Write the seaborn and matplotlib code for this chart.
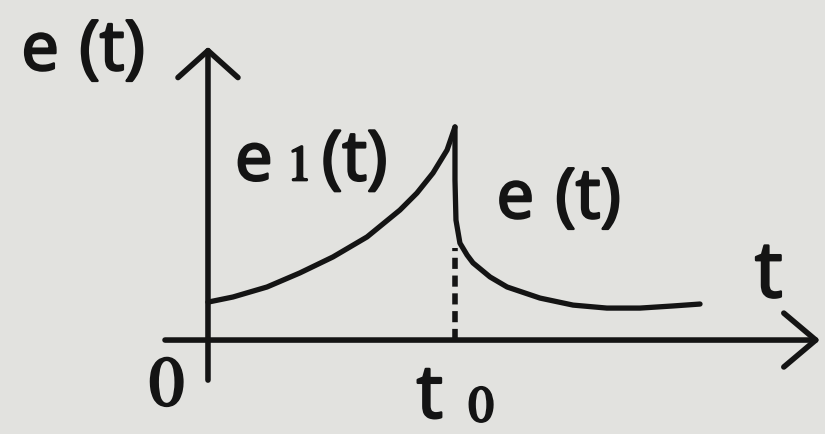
import matplotlib
matplotlib.use("Agg")
import matplotlib.pyplot as plt
import matplotlib.patheffects as pe
import seaborn as sns
import pandas as pd

# e1(t): rising part on [0, t0]
t_rise = [0.0, 0.101, 0.239, 0.372, 0.506, 0.644, 0.777, 0.846, 0.911, 0.968, 1.0]
e_rise = [0.178, 0.202, 0.249, 0.315, 0.390, 0.484, 0.610, 0.690, 0.784, 0.892, 1.0]

# e(t): sharp drop at t0, then decay towards a floor
t_fall = [1.0, 1.0, 1.004, 1.020, 1.049, 1.073, 1.142, 1.211, 1.344, 1.478,
          1.615, 1.749, 1.883, 1.992]
e_fall = [1.0, 0.751, 0.563, 0.455, 0.399, 0.362, 0.296, 0.249, 0.197, 0.164,
          0.150, 0.150, 0.160, 0.169]

t0 = 1.0
e_at_t0 = 0.43            # top of the dashed marker at t0
t_axis = [-0.174, 2.478]  # horizontal axis extent
e_axis = [-0.188, 1.376]  # vertical axis extent

sns.set_theme(style="white")
plt.rcParams["font.family"] = ["Open Sans", "DejaVu Sans"]

ink = "#141414"
paper = "#e2e2df"

fig = plt.figure(figsize=(8.25, 4.34), dpi=100, facecolor=paper)
ax = fig.add_axes([0, 0, 1, 1])
ax.set_facecolor(paper)
ax.set_xlim(-0.842, 2.498)
ax.set_ylim(-0.441, 1.596)
ax.axis("off")

rise = pd.DataFrame({"t": t_rise, "e": e_rise})
fall = pd.DataFrame({"t": t_fall, "e": e_fall})
curve_kw = dict(x="t", y="e", sort=False, estimator=None, color=ink, lw=3.8,
                ax=ax, solid_joinstyle="round", solid_capstyle="round")
sns.lineplot(data=rise, **curve_kw)
sns.lineplot(data=fall, **curve_kw)

# dashed drop line at t0
ax.plot([t0, t0], [0, e_at_t0], color=ink, lw=4.0, ls=(0, (2.0, 1.2)))

# axes with open arrowheads
ax.annotate("", xy=(t_axis[1], 0), xytext=(t_axis[0], 0),
            arrowprops=dict(arrowstyle="->,head_length=1.15,head_width=0.97",
                            lw=4.0, color=ink, mutation_scale=20,
                            shrinkA=0, shrinkB=0))
ax.annotate("", xy=(0, e_axis[1]), xytext=(0, e_axis[0]),
            arrowprops=dict(arrowstyle="->,head_length=0.97,head_width=1.08",
                            lw=4.0, color=ink, mutation_scale=20,
                            shrinkA=0, shrinkB=0))

thick = [pe.withStroke(linewidth=1.8, foreground=ink)]
letters = ["Open Sans", "DejaVu Sans"]
digits = ["STIXGeneral", "DejaVu Serif"]


def label(x, y, s, size, family=letters):
    fig.text(x, y, s, fontsize=size, color=ink, ha="left", va="baseline",
             family=family, path_effects=thick)


# vertical axis title
label(0.026, 0.839, "e", 48)
label(0.096, 0.839, "(t)", 50)
# rising curve name
label(0.285, 0.585, "e", 48)
label(0.348, 0.585, "1", 36, digits)
label(0.390, 0.585, "(t)", 50)
# falling curve name
label(0.602, 0.498, "e", 48)
label(0.673, 0.498, "(t)", 50)
# horizontal axis name and ticks
label(0.915, 0.316, "t", 56)
label(0.505, 0.038, "t", 53)
label(0.568, 0.030, "0", 36, digits)
label(0.181, 0.067, "0", 50, digits)

fig.savefig("out.png", dpi=100, facecolor=paper)
